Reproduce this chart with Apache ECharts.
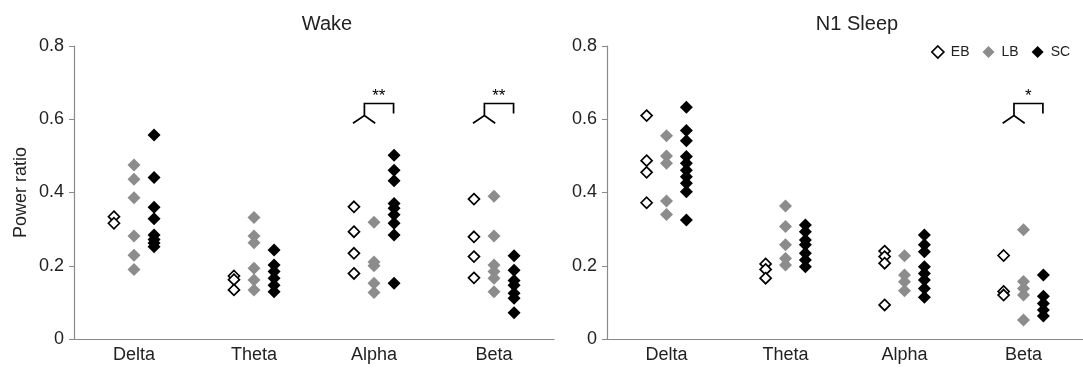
<!DOCTYPE html>
<html>
<head>
<meta charset="utf-8">
<script src="https://cdn.jsdelivr.net/npm/echarts@6/dist/echarts.min.js"></script>
<style>html,body{margin:0;padding:0;background:#fff;}#c{width:1083px;height:375px;}</style>
</head>
<body>
<div id="c"></div>
<script>
const categories = ['Delta', 'Theta', 'Alpha', 'Beta'];
const panelTitles = ['Wake', 'N1 Sleep'];
const groups = ['EB', 'LB', 'SC'];
const yTicks = [0, 0.2, 0.4, 0.6, 0.8];

// Wake values per category (Delta, Theta, Alpha, Beta)
const wakeEB = [
  [0.334, 0.316],
  [0.172, 0.162, 0.134],
  [0.361, 0.293, 0.234, 0.179],
  [0.382, 0.279, 0.225, 0.167]
];
const wakeLB = [
  [0.475, 0.436, 0.386, 0.281, 0.229, 0.190],
  [0.332, 0.281, 0.263, 0.193, 0.161, 0.134],
  [0.319, 0.210, 0.200, 0.152, 0.127],
  [0.390, 0.281, 0.202, 0.184, 0.166, 0.129]
];
const wakeSC = [
  [0.557, 0.441, 0.360, 0.328, 0.284, 0.272, 0.262, 0.252],
  [0.243, 0.202, 0.184, 0.166, 0.147, 0.129],
  [0.502, 0.461, 0.432, 0.370, 0.357, 0.339, 0.316, 0.284, 0.152],
  [0.227, 0.188, 0.160, 0.147, 0.125, 0.111, 0.072]
];
// N1 Sleep values
const n1EB = [
  [0.610, 0.487, 0.455, 0.372],
  [0.205, 0.190, 0.166],
  [0.240, 0.225, 0.207, 0.093],
  [0.228, 0.130, 0.120]
];
const n1LB = [
  [0.555, 0.500, 0.480, 0.377, 0.340],
  [0.363, 0.307, 0.257, 0.220, 0.202],
  [0.227, 0.175, 0.156, 0.132],
  [0.298, 0.157, 0.138, 0.120, 0.052]
];
const n1SC = [
  [0.633, 0.569, 0.541, 0.498, 0.480, 0.461, 0.443, 0.425, 0.402, 0.325],
  [0.311, 0.293, 0.270, 0.257, 0.234, 0.216, 0.197],
  [0.284, 0.257, 0.238, 0.197, 0.179, 0.161, 0.138, 0.114],
  [0.175, 0.117, 0.097, 0.079, 0.063]
];

// significance brackets: [panel, category index, label]
const sigPanels = [0, 0, 1];
const sigCats = [2, 3, 3];
const sigLabels = ['**', '**', '*'];
const bracketTop = 0.643, bracketLegBottom = 0.616, bracketJunction = 0.610, bracketTips = 0.589, starY = 0.662;

const panelData = [[wakeEB, wakeLB, wakeSC], [n1EB, n1LB, n1SC]];
const offsets = [-0.167, 0, 0.167];
const styles = [
  {color: '#ffffff', borderColor: '#000000', borderWidth: 1.7},
  {color: '#8c8c8c', borderColor: '#8c8c8c', borderWidth: 0},
  {color: '#000000', borderColor: '#000000', borderWidth: 0}
];

const font = 'Liberation Sans, Arial, sans-serif';
const axisColor = '#8a8a8a';

const grids = [
  {left: 74, top: 46, width: 480, height: 293},
  {left: 607, top: 46, width: 482, height: 293}
];

const xAxes = [], yAxes = [], series = [];
for (let p = 0; p < 2; p++) {
  xAxes.push({
    type: 'category', gridIndex: p, data: categories, boundaryGap: true,
    axisLine: {lineStyle: {color: axisColor, width: 1.2}},
    axisTick: {alignWithLabel: true, length: 5, lineStyle: {color: '#333'}, interval: 0},
    axisLabel: {color: '#222', fontSize: 18, fontFamily: font, margin: 7}
  });
  yAxes.push({
    type: 'value', gridIndex: p, min: 0, max: 0.8, interval: 0.2,
    name: p === 0 ? 'Power ratio' : '', nameLocation: 'middle', nameGap: 44,
    nameTextStyle: {color: '#222', fontSize: 18, fontFamily: font},
    splitLine: {show: false},
    axisLine: {show: true, onZero: false, lineStyle: {color: axisColor, width: 1.2}},
    axisTick: {show: true, length: 5, lineStyle: {color: axisColor}},
    axisLabel: {color: '#222', fontSize: 18, fontFamily: font, margin: 10,
      formatter: v => (yTicks.indexOf(v) >= 0 ? String(v) : '')}
  });
}
for (let p = 0; p < 2; p++) {
  xAxes.push({type: 'value', gridIndex: p, min: -0.5, max: 3.5, show: false});
}

for (let p = 0; p < 2; p++) {
  for (let g = 0; g < 3; g++) {
    const arr = panelData[p][g];
    const data = [];
    arr.forEach((vals, ci) => vals.forEach(v => data.push([ci + offsets[g], v])));
    series.push({
      name: groups[g], type: 'scatter', xAxisIndex: 2 + p, yAxisIndex: p,
      symbol: 'diamond', symbolSize: g === 0 ? 11 : 13,
      itemStyle: Object.assign({opacity: 1}, styles[g]),
      data: data, z: 3 + g, silent: true
    });
  }
}

// brackets via custom series (data coordinates)
for (let p = 0; p < 2; p++) {
  const bdata = [];
  sigPanels.forEach((sp, k) => { if (sp === p) bdata.push([sigCats[k], k]); });
  series.push({
    type: 'custom', xAxisIndex: 2 + p, yAxisIndex: p, silent: true, z: 10,
    data: bdata,
    renderItem: function (params, api) {
      const c = api.value(0);
      const k = api.value(1);
      const jx = c - 0.08, rx = c + 0.163;
      const pt = (x, y) => api.coord([x, y]);
      const ls = {stroke: '#000', lineWidth: 1.7, fill: null};
      return {
        type: 'group', children: [
          {type: 'polyline', shape: {points: [pt(c - 0.175, bracketTips), pt(jx, bracketJunction), pt(c + 0.01, bracketTips)]}, style: ls},
          {type: 'polyline', shape: {points: [pt(jx, bracketJunction), pt(jx, bracketTop), pt(rx, bracketTop), pt(rx, bracketLegBottom)]}, style: ls},
          {type: 'text', style: {text: sigLabels[k], x: pt(c + 0.04, starY)[0], y: pt(c + 0.04, starY)[1],
            textAlign: 'center', textVerticalAlign: 'middle', fontSize: 17, fontFamily: font, fill: '#000'}}
        ]
      };
    }
  });
}

const chart = echarts.init(document.getElementById('c'), null, {renderer: 'canvas'});
chart.setOption({
  animation: false,
  backgroundColor: '#ffffff',
  title: [
    {text: panelTitles[0], left: 322, top: 9, textAlign: 'center', textStyle: {fontSize: 20, fontWeight: 'normal', color: '#222', fontFamily: font}},
    {text: panelTitles[1], left: 852, top: 9, textAlign: 'center', textStyle: {fontSize: 20, fontWeight: 'normal', color: '#222', fontFamily: font}}
  ],
  legend: {
    data: [
      {name: 'EB', icon: 'diamond', itemStyle: {color: '#fff', borderColor: '#000', borderWidth: 1.7}},
      {name: 'LB', icon: 'diamond', itemStyle: {color: '#8c8c8c', borderWidth: 0}},
      {name: 'SC', icon: 'diamond', itemStyle: {color: '#000', borderWidth: 0}}
    ],
    left: 931, top: 45, itemWidth: 12, itemHeight: 12, itemGap: 13, padding: 0,
    textStyle: {fontSize: 14, color: '#222', fontFamily: font, padding: [0, 0, 0, 2]},
    selectedMode: false
  },
  grid: grids,
  xAxis: xAxes,
  yAxis: yAxes,
  series: series
});
</script>
</body>
</html>
